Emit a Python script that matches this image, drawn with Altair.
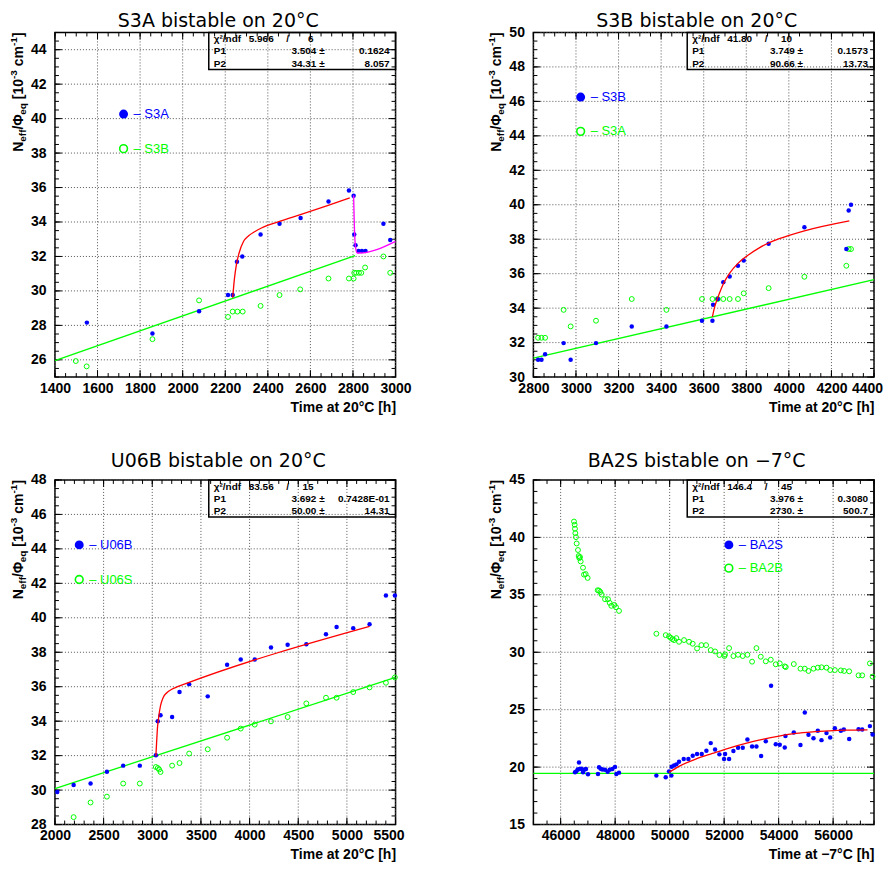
import altair as alt
import pandas as pd

W, H = 341, 345
BLUE, GREEN, RED, MAGENTA = "#0000ff", "#00ff00", "#ff0000", "#ff00ff"
LF = "Liberation Sans"

# ---------------- Panel 1 : S3A ----------------
s3a_blue_t = [1550, 1858, 2077, 2213, 2235, 2255, 2280, 2366, 2455, 2554, 2685, 2781, 2803, 2806, 2812, 2826, 2842, 2859, 2943, 2975]
s3a_blue_v = [28.16, 27.53, 28.82, 29.76, 29.76, 31.69, 32.0, 33.27, 33.9, 34.23, 35.19, 35.83, 35.52, 33.27, 32.65, 32.32, 32.32, 32.32, 33.9, 32.96]
s3a_green_t = [1498, 1549, 1858, 2077, 2213, 2235, 2257, 2282, 2366, 2455, 2552, 2685, 2781, 2803, 2806, 2815, 2828, 2839, 2857, 2943, 2975]
s3a_green_v = [25.93, 25.62, 27.2, 29.45, 28.49, 28.8, 28.8, 28.8, 29.13, 29.76, 30.09, 30.72, 30.72, 30.72, 31.05, 31.05, 31.05, 31.05, 31.36, 32.0, 31.05]
s3a_fit_t = [2235, 2243, 2252, 2265, 2285, 2310, 2340, 2370, 2455, 2560, 2680, 2785]
s3a_fit_v = [29.6, 30.7, 31.5, 32.2, 32.85, 33.2, 33.45, 33.65, 34.03, 34.45, 34.95, 35.4]
s3a_line_t = [1400, 2810]
s3a_line_v = [25.95, 32.05]
s3a_drop_t = [2803, 2806, 2809, 2813, 2820, 2830, 3000]
s3a_drop_v = [35.55, 34.0, 33.0, 32.45, 32.2, 32.2, 32.88]

# ---------------- Panel 2 : S3B ----------------
s3b_blue_t = [2822, 2838, 2855, 2942, 2975, 3094, 3262, 3425, 3592, 3641, 3644, 3666, 3692, 3722, 3761, 3788, 3905, 4073, 4270, 4281, 4292]
s3b_blue_v = [31.0, 31.0, 31.33, 31.97, 31.0, 31.97, 32.94, 32.94, 33.27, 33.27, 34.2, 34.53, 35.51, 35.84, 36.46, 36.77, 37.74, 38.7, 37.43, 39.67, 40.0]
s3b_green_t = [2822, 2838, 2855, 2942, 2975, 3094, 3262, 3425, 3592, 3641, 3666, 3692, 3722, 3761, 3788, 3905, 4073, 4270, 4281, 4292]
s3b_green_v = [32.28, 32.28, 32.28, 33.9, 32.94, 33.27, 34.53, 33.9, 34.53, 34.53, 34.53, 34.53, 34.53, 34.53, 34.86, 35.16, 35.82, 36.46, 37.43, 37.43]
s3b_fit_t = [3641, 3652, 3666, 3692, 3722, 3761, 3800, 3861, 3905, 3955, 4073, 4284]
s3b_fit_v = [33.5, 34.1, 34.6, 35.4, 36.03, 36.6, 37.0, 37.5, 37.78, 38.03, 38.49, 39.07]
s3b_line_t = [2800, 4400]
s3b_line_v = [31.1, 35.65]

# ---------------- Panel 3 : U06B ----------------
u06_blue_t = [2024, 2192, 2366, 2534, 2701, 2872, 3037, 3057, 3085, 3204, 3280, 3379, 3570, 3769, 3909, 4053, 4220, 4391, 4583, 4785, 4894, 5065, 5233, 5401, 5493]
u06_blue_v = [29.89, 30.3, 30.38, 31.07, 31.42, 31.42, 32.02, 33.99, 34.34, 34.24, 35.69, 36.15, 35.44, 37.27, 37.58, 37.58, 38.28, 38.43, 38.47, 39.05, 39.46, 39.4, 39.63, 41.29, 41.29]
u06_green_t = [2192, 2366, 2534, 2701, 2872, 3037, 3057, 3071, 3085, 3204, 3280, 3379, 3570, 3769, 3909, 4053, 4220, 4391, 4583, 4785, 4894, 5065, 5233, 5401, 5493]
u06_green_v = [28.43, 29.28, 29.62, 30.38, 30.38, 31.34, 31.28, 31.2, 31.05, 31.42, 31.57, 32.12, 32.37, 33.04, 33.57, 33.8, 33.99, 34.24, 35.03, 35.36, 35.36, 35.69, 35.96, 36.23, 36.54]
u06_fit_t = [3037, 3045, 3052, 3065, 3085, 3110, 3150, 3200, 3260, 3330, 5233]
u06_fit_v = [31.96, 32.8, 33.5, 34.2, 34.9, 35.35, 35.65, 35.85, 36.0, 36.15, 39.5]
u06_line_t = [2000, 5500]
u06_line_v = [30.09, 36.54]

# ---------------- Panel 4 : BA2S ----------------
ba2s_t = [46526, 46575, 46624, 46673, 46697, 46759, 46820, 46881, 46930, 47003,
          47371, 47408, 47469, 47530, 47628, 47726, 47799, 47897, 47995, 48044, 48142,
          49513, 49856, 49978, 50064, 50076, 50162, 50247, 50345, 50517, 50688, 50847, 51006,
          51178, 51349, 51508, 51667, 51826, 51997, 52034, 52181, 52340, 52511, 52683, 52854,
          53026, 53185, 53356, 53528, 53723, 53895, 54041, 54225, 54250, 54556, 54801, 54960,
          55095, 55279, 55438, 55573, 55756, 55891, 56063, 56283, 56393, 56589, 56932, 57067,
          57349, 57447]
ba2s_v = [19.55, 19.63, 19.8, 20.41, 19.83, 19.86, 19.55, 19.8, 19.83, 19.37,
          19.4, 19.98, 19.86, 19.8, 19.78, 19.6, 19.78, 19.83, 20.01, 19.4, 19.52,
          19.26, 19.11, 19.63, 19.26, 20.04, 20.15, 20.24, 20.47, 20.7, 20.7, 20.99, 21.14,
          21.14, 21.42, 22.09, 21.54, 21.11, 20.7, 21.14, 20.7, 21.4, 21.69, 21.69, 22.41,
          21.8, 21.8, 20.96, 22.26, 27.09, 22.0, 21.95, 21.71, 22.7, 23.02, 21.92, 24.75,
          22.81, 22.52, 23.16, 22.35, 22.96, 22.58, 23.39, 23.16, 23.28, 22.44, 23.3, 23.28,
          23.57, 22.84]
ba2b_t = [46490, 46514, 46526, 46539, 46563, 46588, 46636, 46661, 46685, 46710, 46734, 46820, 46857, 46918, 46991,
          47359, 47408, 47457, 47506, 47628, 47738, 47799, 47860, 47970, 48032, 48142,
          49513, 49856, 49978, 50039, 50100, 50162, 50247, 50345, 50529, 50713, 50847, 51006,
          51165, 51337, 51508, 51667, 51826, 52010, 52034, 52181, 52340, 52511, 52683, 52854,
          53026, 53185, 53344, 53528, 53711, 53895, 54041, 54225, 54262, 54556, 54801, 54960,
          55095, 55279, 55438, 55573, 55756, 55891, 56063, 56283, 56405, 56589, 56932, 57067,
          57349, 57447]
ba2b_v = [41.38, 41.1, 40.75, 40.37, 40.02, 39.47, 38.9, 38.38, 38.2, 38.29, 37.91, 37.36, 36.76, 36.81, 36.47,
          35.4, 35.37, 35.25, 35.02, 34.62, 34.62, 34.3, 34.04, 34.12, 33.92, 33.6,
          31.61, 31.49, 31.38, 31.26, 31.14, 31.06, 31.23, 30.91, 31.06, 30.91, 30.74, 30.33,
          30.62, 30.62, 30.19, 30.07, 29.76, 29.67, 29.81, 30.36, 29.67, 29.78, 29.67, 29.78,
          29.18, 30.36, 29.61, 29.21, 29.35, 28.95, 29.03, 28.77, 28.71, 28.97, 28.57, 28.57,
          28.37, 28.57, 28.66, 28.69, 28.66, 28.45, 28.45, 28.42, 28.37, 28.34, 27.99, 27.99,
          29.03, 27.88]
ba2_fit_t = [49978, 50345, 50957, 51569, 52181, 52793, 53405, 54017, 54629, 55241, 55853, 56466, 57261]
ba2_fit_v = [19.55, 20.07, 20.7, 21.19, 21.66, 22.06, 22.41, 22.7, 22.93, 23.07, 23.16, 23.22, 23.25]
ba2_line_t = [45000, 57500]
ba2_line_v = [19.46, 19.46]

# ---------------- axes ticks ----------------
p1_xmaj = [1400, 1600, 1800, 2000, 2200, 2400, 2600, 2800, 3000]
p1_ymaj = [26, 28, 30, 32, 34, 36, 38, 40, 42, 44]
p2_xmaj = [2800, 3000, 3200, 3400, 3600, 3800, 4000, 4200, 4400]
p2_ymaj = [30, 32, 34, 36, 38, 40, 42, 44, 46, 48, 50]
p3_xmaj = [2000, 2500, 3000, 3500, 4000, 4500, 5000, 5500]
p3_ymaj = [28, 30, 32, 34, 36, 38, 40, 42, 44, 46, 48]
p4_xmaj = [46000, 48000, 50000, 52000, 54000, 56000]
p4_ymaj = [15, 20, 25, 30, 35, 40, 45]


def steps(a, b, s):
    out, v = [], a
    while v <= b + 1e-9:
        out.append(round(v, 6))
        v += s
    return out


panels = [
    dict(title="S3A bistable on 20°C", xtitle="Time at 20°C [h]", xdom=[1400, 3000], ydom=[25, 45],
         xmaj=p1_xmaj, ymaj=p1_ymaj, xmin=steps(1400, 3000, 50), ymin=steps(25, 45, 0.5),
         blue=(s3a_blue_t, s3a_blue_v), green=(s3a_green_t, s3a_green_v),
         fit=(s3a_fit_t, s3a_fit_v), line=(s3a_line_t, s3a_line_v), drop=(s3a_drop_t, s3a_drop_v),
         stats=["5.966", "6", "3.504", "0.1624", "34.31", "8.057"],
         leg=("S3A", "S3B"), legpos=(68.7, 81.7, 116.3), ty=-5, anchor=True),
    dict(title="S3B bistable on 20°C", xtitle="Time at 20°C [h]", xdom=[2800, 4400], ydom=[30, 50],
         xmaj=p2_xmaj, ymaj=p2_ymaj, xmin=steps(2800, 4400, 50), ymin=steps(30, 50, 0.5),
         blue=(s3b_blue_t, s3b_blue_v), green=(s3b_green_t, s3b_green_v),
         fit=(s3b_fit_t, s3b_fit_v), line=(s3b_line_t, s3b_line_v), drop=None,
         stats=["41.80", "10", "3.749", "0.1573", "90.66", "13.73"],
         leg=("S3B", "S3A"), legpos=(47.3, 64.7, 99.0), ty=-5, anchor=False),
    dict(title="U06B bistable on 20°C", xtitle="Time at 20°C [h]", xdom=[2000, 5500], ydom=[28, 48],
         xmaj=p3_xmaj, ymaj=p3_ymaj, xmin=steps(2000, 5500, 100), ymin=steps(28, 48, 0.5),
         blue=(u06_blue_t, u06_blue_v), green=(u06_green_t, u06_green_v),
         fit=(u06_fit_t, u06_fit_v), line=(u06_line_t, u06_line_v), drop=None,
         stats=["83.56", "15", "3.692", "0.7428E-01", "50.00", "14.31"],
         leg=("U06B", "U06S"), legpos=(24.3, 65.0, 99.7), ty=-12.5, anchor=False),
    dict(title="BA2S bistable on −7°C", xtitle="Time at −7°C [h]", xdom=[45000, 57500], ydom=[15, 45],
         xmaj=p4_xmaj, ymaj=p4_ymaj, xmin=steps(45000, 57500, 500), ymin=steps(15, 45, 1),
         blue=(ba2s_t, ba2s_v), green=(ba2b_t, ba2b_v),
         fit=(ba2_fit_t, ba2_fit_v), line=(ba2_line_t, ba2_line_v), drop=None,
         stats=["146.4", "45", "3.976", "0.3080", "2730.", "500.7"],
         leg=("BA2S", "BA2B"), legpos=(195.7, 65.0, 88.3), ty=-12.5, anchor=False),
]

ONE = pd.DataFrame({"d": [0]})

# Arial-bold-like widths for the y-title pieces (pre = leading gap in em)
CW = {'N': .722, 'e': .556, 'f': .333, '/': .278, 'Φ': .78, 'q': .611, '[': .333,
      '1': .556, '0': .556, '-': .333, '3': .556, 'c': .556, 'm': .889, ']': .333}
YT = [("N", 14, 0, 0), ("eff", 10, 3, 0), ("/Φ", 14, 0, 0), ("eq", 10, 3, 0), ("[10", 14, 0, .278),
      ("-3", 10, -6, 0), ("cm", 14, 0, .278), ("-1", 10, -6, 0), ("]", 14, 0, 0)]


def build(p):
    xs = alt.Scale(domain=p["xdom"], nice=False, zero=False)
    ys = alt.Scale(domain=p["ydom"], nice=False, zero=False)
    last = p["xmaj"][-1]
    xax = alt.Axis(values=p["xmaj"], title=p["xtitle"], titleAnchor="end", titleAlign="right",
                   grid=False, ticks=False, tickSize=0, domain=False, format="d",
                   labelFont=LF, labelFontSize=14, labelFontWeight="bold", labelColor="black",
                   labelPadding=4, labelOverlap=False, labelFlush=False,
                   labelOffset={"expr": "datum.value >= %d && %d > 4000 && %d < 10000 ? -7 : 0" % (last, last, last)},
                   titleFont=LF, titleFontSize=14, titleFontWeight="bold", titleColor="black",
                   titlePadding=5)
    yax = alt.Axis(values=p["ymaj"], title=None, grid=False, ticks=False, tickSize=0, domain=False,
                   format="d", labelFont=LF, labelFontSize=14, labelFontWeight="bold",
                   labelColor="black", labelPadding=9, labelOverlap=False, labelFlush=False)
    X = lambda f: alt.X(f, type="quantitative", scale=xs, axis=xax)
    Y = lambda f: alt.Y(f, type="quantitative", scale=ys, axis=yax)

    layers = []
    dx_maj = pd.DataFrame({"t": p["xmaj"]})
    dy_maj = pd.DataFrame({"v": p["ymaj"]})
    dx_min = pd.DataFrame({"t": p["xmin"]})
    dy_min = pd.DataFrame({"v": p["ymin"]})
    grid = dict(color="#555555", strokeDash=[1, 2], strokeWidth=1)
    layers.append(alt.Chart(dx_maj).mark_rule(**grid).encode(x=X("t")))
    layers.append(alt.Chart(dy_maj).mark_rule(**grid).encode(y=Y("v")))
    tk = dict(color="black", strokeWidth=1)
    for d, L in ((dx_maj, 7), (dx_min, 4)):
        layers.append(alt.Chart(d).mark_rule(**tk).encode(x=X("t"), y=alt.value(H), y2=alt.value(H - L)))
        layers.append(alt.Chart(d).mark_rule(**tk).encode(x=X("t"), y=alt.value(0), y2=alt.value(L)))
    for d, L in ((dy_maj, 7), (dy_min, 4)):
        layers.append(alt.Chart(d).mark_rule(**tk).encode(y=Y("v"), x=alt.value(0), x2=alt.value(L)))
        layers.append(alt.Chart(d).mark_rule(**tk).encode(y=Y("v"), x=alt.value(W), x2=alt.value(W - L)))

    def df(tv):
        return pd.DataFrame({"t": tv[0], "v": tv[1]})

    layers.append(alt.Chart(df(p["line"])).mark_line(color=GREEN, strokeWidth=1.3).encode(x=X("t"), y=Y("v")))
    layers.append(alt.Chart(df(p["green"])).mark_point(shape="circle", filled=False, color=GREEN,
                                                       size=24, strokeWidth=1, opacity=1).encode(x=X("t"), y=Y("v")))
    layers.append(alt.Chart(df(p["blue"])).mark_circle(color=BLUE, size=20, opacity=1).encode(x=X("t"), y=Y("v")))
    layers.append(alt.Chart(df(p["fit"])).mark_line(color=RED, strokeWidth=1.3, interpolate="monotone").encode(x=X("t"), y=Y("v")))
    if p["drop"]:
        layers.append(alt.Chart(df(p["drop"])).mark_line(color=MAGENTA, strokeWidth=1.3, interpolate="monotone").encode(x=X("t"), y=Y("v")))

    # stats box
    layers.append(alt.Chart(ONE).mark_rect(fill=None, stroke="black", strokeWidth=1.5).encode(
        x=alt.value(154), x2=alt.value(W), y=alt.value(0), y2=alt.value(37)))
    st = p["stats"]
    ft = dict(font=LF, fontSize=10, fontWeight="bold", color="black", baseline="alphabetic")
    texts = [("χ²/ndf", 159, 9.7, "left"), (st[0], 219, 9.7, "right"), ("/", 233, 9.7, "center"),
             (st[1], 259, 9.7, "right"),
             ("P1", 159, 22, "left"), (st[2] + " ±", 270, 22, "right"), (st[3], 335, 22, "right"),
             ("P2", 159, 34.3, "left"), (st[4] + " ±", 270, 34.3, "right"), (st[5], 335, 34.3, "right")]
    for t, x, y, a in texts:
        layers.append(alt.Chart(ONE).mark_text(align=a, **ft).encode(
            x=alt.value(x), y=alt.value(y), text=alt.value(t)))

    # legend
    lx, ly1, ly2 = p["legpos"]
    layers.append(alt.Chart(ONE).mark_circle(color=BLUE, size=80, opacity=1).encode(x=alt.value(lx), y=alt.value(ly1)))
    layers.append(alt.Chart(ONE).mark_point(shape="circle", filled=False, color=GREEN, size=60,
                                            strokeWidth=1.6, opacity=1).encode(x=alt.value(lx), y=alt.value(ly2)))
    lf = dict(font=LF, fontSize=13, align="left", baseline="middle")
    layers.append(alt.Chart(ONE).mark_text(color=BLUE, **lf).encode(
        x=alt.value(lx + 10), y=alt.value(ly1), text=alt.value("– " + p["leg"][0])))
    layers.append(alt.Chart(ONE).mark_text(color=GREEN, **lf).encode(
        x=alt.value(lx + 10), y=alt.value(ly2), text=alt.value("– " + p["leg"][1])))

    # rotated y title with sub/superscripts
    starts, cum = [], 0.0
    for s, fs, sh, pre in YT:
        cum += pre * 14
        starts.append(cum)
        cum += sum(CW[c] for c in s) * fs
    total = cum
    for (s, fs, sh, pre), st0 in zip(YT, starts):
        layers.append(alt.Chart(ONE).mark_text(font=LF, fontSize=fs, fontWeight="bold", color="black",
                                               angle=270, align="left", baseline="alphabetic",
                                               dx=st0 - total, dy=sh).encode(
            x=alt.value(-32), y=alt.value(0), text=alt.value(s)))

    # panel title as text
    layers.append(alt.Chart(ONE).mark_text(font="DejaVu Sans", fontSize=19, color="black",
                                           align="center", baseline="alphabetic").encode(
        x=alt.value(W / 2 - 7), y=alt.value(p["ty"]), text=alt.value(p["title"])))

    if p["anchor"]:
        layers.append(alt.Chart(ONE).mark_rect(opacity=0).encode(
            x=alt.value(-46), x2=alt.value(-45), y=alt.value(-23), y2=alt.value(-22)))

    return alt.layer(*layers).properties(width=W, height=H)


charts = [build(p) for p in panels]
chart = alt.concat(*charts, columns=2, spacing={"row": 103, "column": 138}, bounds="flush").configure(
    padding=0, background="white"
).configure_view(stroke="black", strokeWidth=1.5)

chart.save("out.html", embed_options={"renderer": "svg", "actions": False})
